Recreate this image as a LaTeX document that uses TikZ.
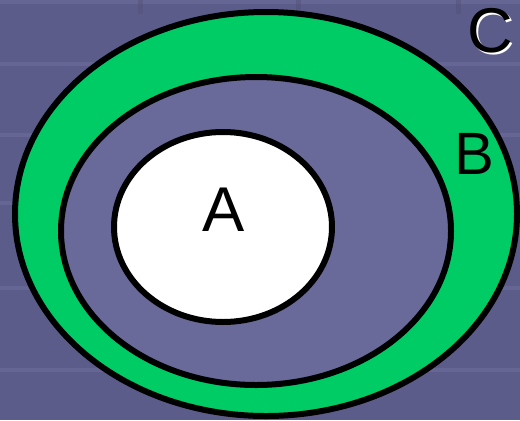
\documentclass[tikz,border=0pt]{standalone}
\usepackage{fontspec}
\setmainfont{Liberation Sans}
\usepackage{tikz}
\usetikzlibrary{calc, positioning}
\usepackage{xcolor}
\definecolor{bgTile}{RGB}{92, 92, 138}
\definecolor{bgLine}{RGB}{102, 102, 148}
\definecolor{setB}{RGB}{0, 204, 102}
\definecolor{setC}{RGB}{106, 106, 154}

\tikzset{
  setline/.style={line width=0.12cm, draw=black},
  setlabel/.style={font=\fontsize{36}{36}\selectfont, text=black, inner sep=0pt}
}

\begin{document}
\begin{tikzpicture}[x=0.02cm, y=-0.02cm]
  % Background with faint tiles
  \fill[bgTile] (0,0) rectangle (520,420);
  \useasboundingbox (0,0) rectangle (520,420);
  \foreach \y in {2, 64, 135, 203, 288, 370} {
    \draw[bgLine, line width=0.08cm] (0,\y) -- (520,\y);
  }
  \foreach \x in {140, 298, 458} {
    \draw[bgTile!85!black, line width=0.1cm, opacity=0.4] (\x,0) -- (\x,14);
  }

  % Set C (outer ring, green)
  \filldraw[setline, fill=setB] (266,214) ellipse [x radius=251, y radius=202];

  % Set B (inner, purple)
  \filldraw[setline, fill=setC] (256,231) ellipse [x radius=195, y radius=154];

  % Set A (white)
  \filldraw[setline, fill=white] (223,227) ellipse [x radius=109, y radius=95];

  % Labels
  \node[setlabel] (labA) at (224,210) {A};
  \node[setlabel, font=\fontsize{34}{34}\selectfont] (labB) at (474,154) {B};
  \node[setlabel, text=white] (labCshadow) at (492,33) {C};
  \node[setlabel] (labC) at (490,31) {C};
\end{tikzpicture}
\end{document}
